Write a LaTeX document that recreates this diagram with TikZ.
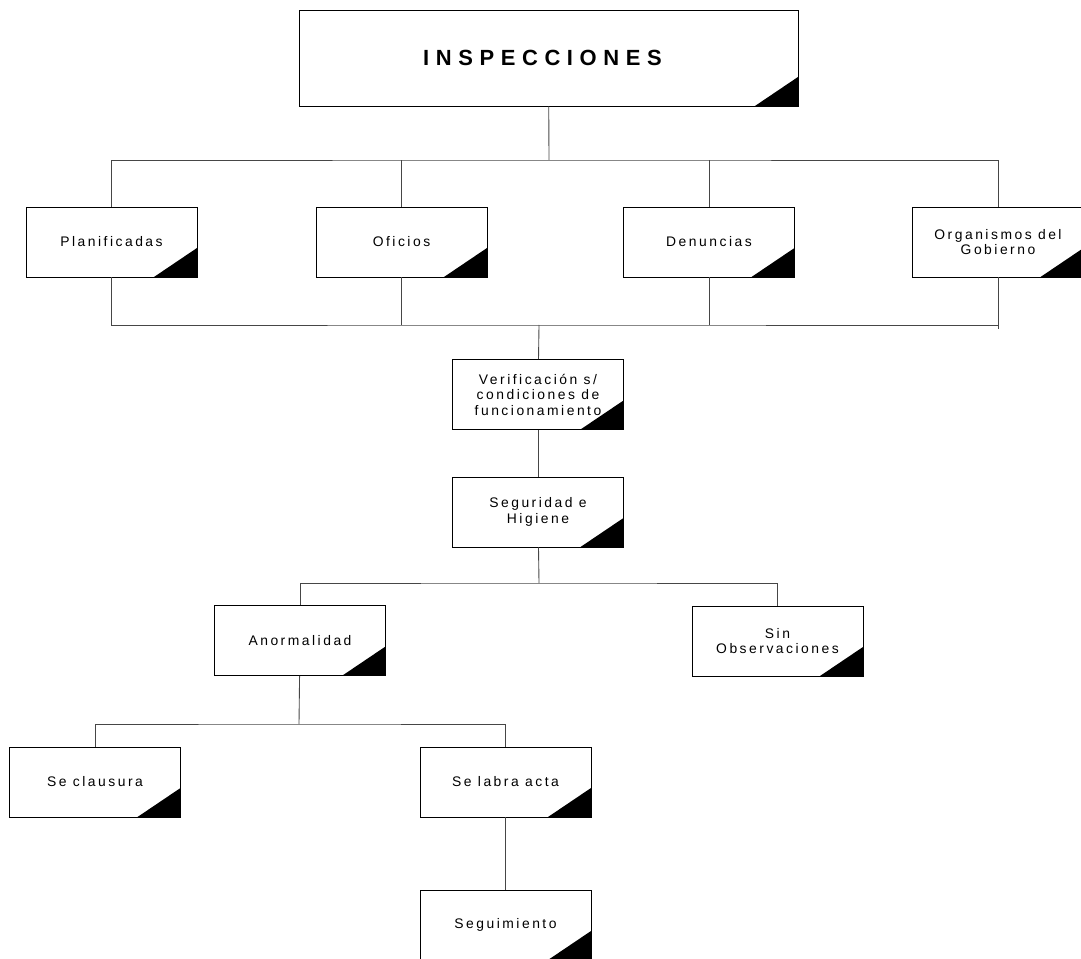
\documentclass[tikz,border=0pt]{standalone}
\usepackage{fontspec}
\newfontfamily\boxfont[LetterSpace=18]{Liberation Sans}
\newfontfamily\titlefont[LetterSpace=30]{Liberation Sans}
\definecolor{LinkGray}{RGB}{70,70,70}
\usepackage{tikz}
\usetikzlibrary{positioning,calc}
\tikzset{mybox/.style={draw,line width=0.45pt,rectangle,inner sep=0pt,minimum width=3.42cm,minimum height=1.4cm,align=center,
    font=\boxfont\fontsize{7.9}{8.8}\selectfont,
    path picture={\fill (path picture bounding box.south east) -- ++(-0.86cm,0) -- ++(0.86cm,0.58cm) -- cycle;}}}
\tikzset{mytopbox/.style={mybox,minimum width=9.98cm,minimum height=1.92cm,font=\titlefont\bfseries\fontsize{12.5}{14}\selectfont}}
\tikzset{mylinks/.style={LinkGray,line width=0.5pt}}

\begin{document}
\begin{tikzpicture}[x=0.02cm,y=-0.02cm]
    \useasboundingbox (0,0) rectangle (1081,959);
    \node[mytopbox] (insp) at (548.5,58) {INSPECCIONES\hspace{0.55em}};
    \node[mybox] (plan) at (111.5,242) {Planificadas};
    \node[mybox] (ofi) at (401.5,242) {Oficios};
    \node[mybox] (den) at (709,242) {Denuncias};
    \node[mybox] (org) at (998,242) {Organismos del\\Gobierno};
    \node[mybox] (verif) at (538,394.5) {Verificación s/\\condiciones de\\funcionamiento};
    \node[mybox] (seg) at (538,512) {Seguridad e\\Higiene};
    \node[mybox] (anor) at (300,640.5) {Anormalidad};
    \node[mybox] (sinobs) at (777.5,641) {Sin\\Observaciones};
    \node[mybox] (claus) at (95,782) {Se clausura};
    \node[mybox] (acta) at (505.5,782) {Se labra acta};
    \node[mybox] (seguim) at (505.5,925) {Seguimiento};

    \coordinate (j1) at (549,160);
    \coordinate (j2) at (539,325);
    \coordinate (j3) at (539,583);
    \coordinate (j4) at (299,724);

    \draw[mylinks] (insp) -- (j1);
    \draw[mylinks] (plan.north) |- (j1) -| (org.north);
    \draw[mylinks] (ofi.north) -- (ofi.north |- j1);
    \draw[mylinks] (den.north) -- (den.north |- j1);
    \draw[mylinks] (plan.south) |- (j2) -- (org.south |- j2);
    \draw[mylinks] (ofi.south) -- (ofi.south |- j2);
    \draw[mylinks] (den.south) -- (den.south |- j2);
    \draw[mylinks] (org.south) -- ++(0,52);
    \draw[mylinks] (j2) -- (verif);
    \draw[mylinks] (verif) -- (seg);
    \draw[mylinks] (seg) -- (j3);
    \draw[mylinks] (anor.north) |- (j3) -| (sinobs.north);
    \draw[mylinks] (anor) -- (j4);
    \draw[mylinks] (claus.north) |- (j4) -| (acta.north);
    \draw[mylinks] (acta) -- (seguim);
\end{tikzpicture}
\end{document}
